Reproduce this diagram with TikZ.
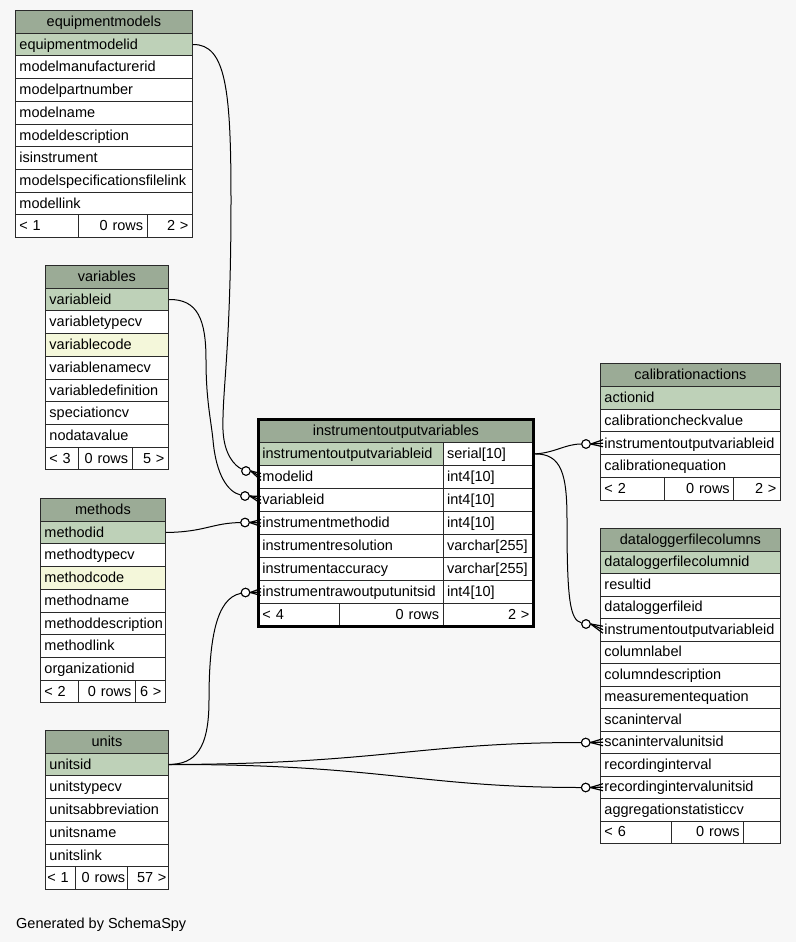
\documentclass[tikz,border=0pt]{standalone}
\usepackage{fontspec}
\setmainfont{Liberation Sans}
\usetikzlibrary{calc}
\definecolor{bg}{HTML}{F7F7F7}
\definecolor{hdrc}{HTML}{9BAB96}
\definecolor{pkc}{HTML}{BED1B8}
\definecolor{idxc}{HTML}{F4F7DA}
\definecolor{bordc}{HTML}{2A2A2A}
\newcommand\dbtab[7]{%
  \pgfmathsetmacro\dbtw{#4-8}%
  \node[hdr, text width=\dbtw pt, minimum height=#5pt] (#1-0) at (#2,#3) {#6};%
  \foreach \rowtxt/\rowsty [count=\rowi] in {#7} {%
    \node[\rowsty, text width=\dbtw pt, minimum height=#5pt] (#1-\rowi) at (#2,{#3+\rowi*#5}) {\rowtxt};%
  }%
}
\newcommand\crowto[2]{%
  \draw[crowl] (#1.east) -- ($(#2.west)+(3,-3.5)$);
  \draw[crowl] (#1.east) -- ($(#2.west)+(3,0)$);
  \draw[crowl] (#1.east) -- ($(#2.west)+(3,3.5)$);
}
\begin{document}
\begin{tikzpicture}[x=1pt,y=-1pt,
  cellbase/.style={draw=bordc, line width=0.9pt, anchor=north west, inner xsep=4pt, inner ysep=0pt,
    text height=11.5pt, text depth=2pt, font=\fontsize{14.5pt}{17pt}\selectfont, align=left},
  hdr/.style={cellbase, fill=hdrc, align=center},
  pk/.style={cellbase, fill=pkc},
  col/.style={cellbase, fill=white},
  idx/.style={cellbase, fill=idxc},
  ftl/.style={col},
  ftr/.style={col, align=right},
  rel/.style={draw=black, line width=1pt},
  crowl/.style={draw=black, line width=1.2pt},
  odot/.style={circle, draw=black, fill=white, line width=1pt, minimum size=8.5pt, inner sep=0pt}]
\fill[bg] (0,0) rectangle (796,942);
\useasboundingbox (0,0) rectangle (796,942);

% circles (placed first so connectors can refer to them)
\node[odot] (c1) at (246,471) {};
\node[odot] (c2) at (245,496) {};
\node[odot] (c3) at (245,522.5) {};
\node[odot] (c4) at (245.5,592.5) {};
\node[odot] (c5) at (585.7,742.5) {};
\node[odot] (c6) at (585.7,787.5) {};
\node[odot] (c7) at (586,444) {};
\node[odot] (c8) at (586,624) {};

% tables
\dbtab{em}{15}{10}{177}{22.7}{equipmentmodels}{equipmentmodelid/pk, modelmanufacturerid/col, modelpartnumber/col, modelname/col, modeldescription/col, isinstrument/col, modelspecificationsfilelink/col, modellink/col}
\node[ftl, text width=55.3pt, minimum height=22.7pt] (emf1) at (15,214.3) {< 1};
\node[ftr, text width=60.4pt, minimum height=22.7pt] (emf2) at (78.3,214.3) {0 rows};
\node[ftr, text width=37.3pt, minimum height=22.7pt] (emf3) at (146.7,214.3) {2 >};

\dbtab{var}{45}{265}{123}{22.7}{variables}{variableid/pk, variabletypecv/col, variablecode/idx, variablenamecv/col, variabledefinition/col, speciationcv/col, nodatavalue/col}
\node[ftl, text width=25.3pt, minimum height=22.7pt] (varf1) at (45,446.6) {< 3};
\node[ftr, text width=45.4pt, minimum height=22.7pt] (varf2) at (78.3,446.6) {0 rows};
\node[ftr, text width=28.3pt, minimum height=22.7pt] (varf3) at (131.7,446.6) {5 >};

\dbtab{meth}{40}{498}{125}{22.7}{methods}{methodid/pk, methodtypecv/col, methodcode/idx, methodname/col, methoddescription/col, methodlink/col, organizationid/col}
\node[ftl, text width=30.3pt, minimum height=22.7pt] (methf1) at (40,679.6) {< 2};
\node[ftr, text width=48.7pt, minimum height=22.7pt] (methf2) at (78.3,679.6) {0 rows};
\node[ftr, text width=22pt, minimum height=22.7pt] (methf3) at (135,679.6) {6 >};

\dbtab{un}{45}{730}{123}{22.7}{units}{unitsid/pk, unitstypecv/col, unitsabbreviation/col, unitsname/col, unitslink/col}
\node[ftl, text width=26pt, minimum height=22.7pt, inner xsep=2pt] (unf1) at (45,866.2) {< 1};
\node[ftr, text width=47.7pt, minimum height=22.7pt, inner xsep=2pt] (unf2) at (75,866.2) {0 rows};
\node[ftr, text width=37.3pt, minimum height=22.7pt, inner xsep=2pt] (unf3) at (126.7,866.2) {57 >};

\dbtab{cal}{600}{363}{180}{22.8}{calibrationactions}{actionid/pk, calibrationcheckvalue/col, instrumentoutputvariableid/col, calibrationequation/col}
\node[ftl, text width=56.3pt, minimum height=22.8pt] (calf1) at (600,477) {< 2};
\node[ftr, text width=61pt, minimum height=22.8pt] (calf2) at (664.3,477) {0 rows};
\node[ftr, text width=38.7pt, minimum height=22.8pt] (calf3) at (733.3,477) {2 >};

\dbtab{dlf}{600}{528}{180}{22.5}{dataloggerfilecolumns}{dataloggerfilecolumnid/pk, resultid/col, dataloggerfileid/col, instrumentoutputvariableid/col, columnlabel/col, columndescription/col, measurementequation/col, scaninterval/col, scanintervalunitsid/col, recordinginterval/col, recordingintervalunitsid/col, aggregationstatisticcv/col}
\node[ftl, text width=63pt, minimum height=22.5pt] (dlff1) at (600,820.5) {< 6};
\node[ftr, text width=64.3pt, minimum height=22.5pt] (dlff2) at (671,820.5) {0 rows};
\node[ftr, text width=28.7pt, minimum height=22.5pt] (dlff3) at (743.3,820.5) {};

% central table
\node[hdr, text width=267pt, minimum height=23pt] (iov-0) at (258,419) {instrumentoutputvariables};
\foreach \ca/\cb/\cs [count=\ci] in {instrumentoutputvariableid/serial[10]/pk, modelid/int4[10]/col, variableid/int4[10]/col, instrumentmethodid/int4[10]/col, instrumentresolution/varchar[255]/col, instrumentaccuracy/varchar[255]/col, instrumentrawoutputunitsid/int4[10]/col} {
  \node[\cs, text width=176.7pt, minimum height=23pt] (iov-\ci) at (258,{419+\ci*23}) {\ca};
  \node[col, text width=82.3pt, minimum height=23pt] (iovt-\ci) at (442.7,{419+\ci*23}) {\cb};
}
\node[ftl, text width=73.3pt, minimum height=23pt] (iovf1) at (258,603) {< 4};
\node[ftr, text width=95.4pt, minimum height=23pt] (iovf2) at (339.3,603) {0 rows};
\node[ftr, text width=82.3pt, minimum height=23pt] (iovf3) at (442.7,603) {2 >};
\draw[line width=3pt, black] (iov-0.north west) rectangle (iovf3.south east);

% connectors
\draw[rel] (em-1.east) .. controls (226,44) and (231,90) .. (231,200)
  .. controls (231,350) and (222,390) .. (223,430)
  .. controls (224,455) and (235,466) .. (c1);
\draw[rel] (var-1.east) .. controls (198,299) and (206,320) .. (206,360)
  .. controls (206,400) and (211,420) .. (213,440)
  .. controls (216,475) and (228,492) .. (c2);
\draw[rel] (meth-1.east) .. controls (205,532) and (212,523) .. (c3);
\draw[rel] (un-1.east) .. controls (195,764) and (209,750) .. (209,700)
  .. controls (209,640) and (216,598) .. (c4);
\draw[rel] (un-1.east) .. controls (380,764) and (420,742.5) .. (c5);
\draw[rel] (un-1.east) .. controls (380,764) and (420,787.5) .. (c6);
\draw[rel] (iovt-1.east) .. controls (555,453) and (565,444) .. (c7);
\draw[rel] (iovt-1.east) .. controls (562,453) and (567,475) .. (567,520)
  .. controls (567,600) and (570,620) .. (c8);

% crow feet
\crowto{c1}{iov-2}
\crowto{c2}{iov-3}
\crowto{c3}{iov-4}
\crowto{c4}{iov-7}
\crowto{c5}{dlf-9}
\crowto{c6}{dlf-11}
\crowto{c7}{cal-3}
\crowto{c8}{dlf-4}
\foreach \cc in {c1,c2,c3,c4,c5,c6,c7,c8} \node[odot] at (\cc) {};

\node[anchor=base west, font=\fontsize{14.5pt}{17pt}\selectfont, inner sep=0pt] (gen) at (16,928) {Generated by SchemaSpy};
\end{tikzpicture}
\end{document}
